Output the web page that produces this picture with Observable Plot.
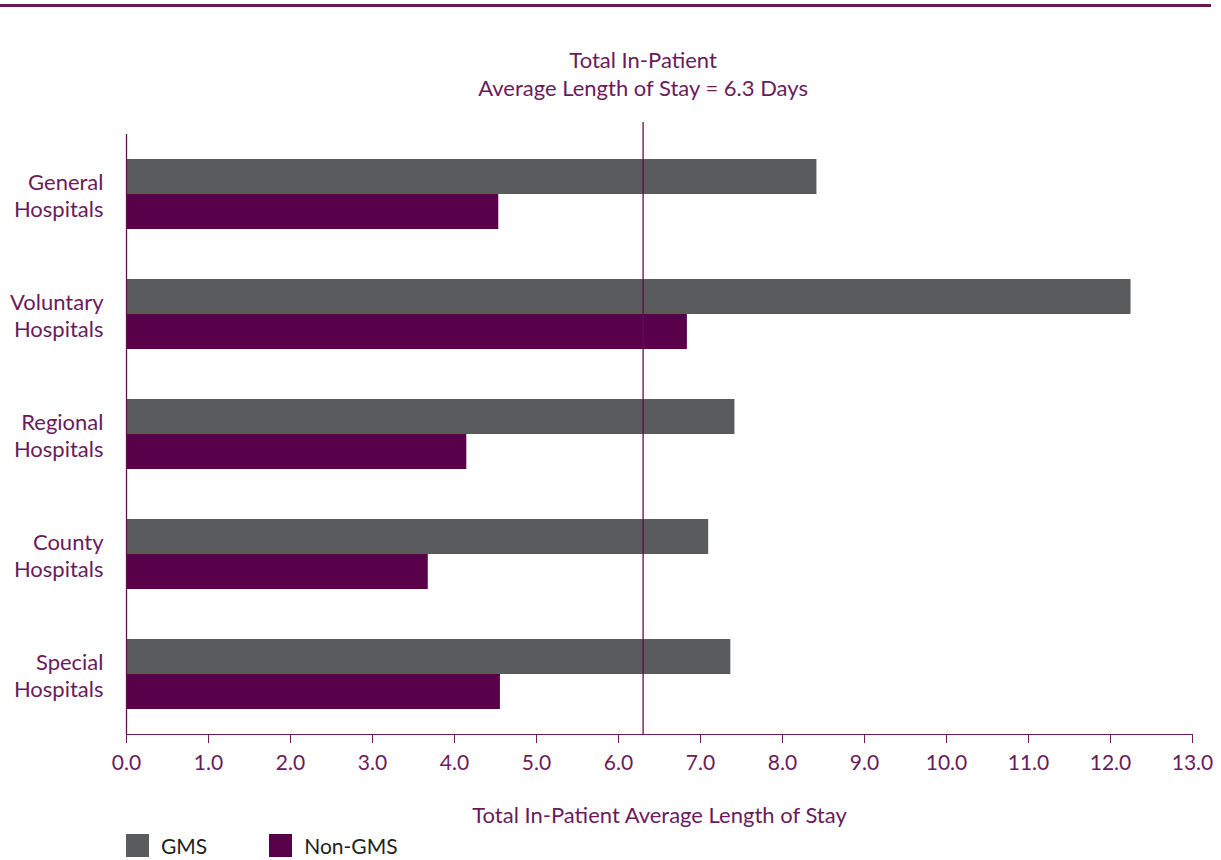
<!DOCTYPE html>
<html>
<head>
<meta charset="utf-8">
<script src="https://cdn.jsdelivr.net/npm/d3@7"></script>
<script src="https://cdn.jsdelivr.net/npm/@observablehq/plot@0.6"></script>
<style>
  html, body { margin: 0; padding: 0; background: #fff; }
  body { position: relative; width: 1221px; height: 860px; overflow: hidden; font-family: Lato, "Noto Sans", sans-serif; }
  #topline { position: absolute; left: 0; top: 4px; width: 1211px; height: 3px; background: #661858; }
  #chart svg { display: block; }
  #legend { display: flex; align-items: center; margin-left: 126px; margin-top: 3px; font-size: 21px; color: #231f20; }
  #legend .item { display: flex; align-items: center; }
  #legend .sw { width: 23px; height: 23px; margin-right: 12px; }
</style>
</head>
<body>
<div id="topline"></div>
<div id="chart"></div>
<div id="legend"></div>
<script>
const categories = ["General Hospitals", "Voluntary Hospitals", "Regional Hospitals", "County Hospitals", "Special Hospitals"];
const series = ["GMS", "Non-GMS"];
const gmsValues = [8.42, 12.25, 7.42, 7.10, 7.37];
const nonGmsValues = [4.54, 6.84, 4.15, 3.68, 4.56];
const averageStay = 6.3;
const xTicks = [0, 1, 2, 3, 4, 5, 6, 7, 8, 9, 10, 11, 12, 13];
const annotationLines = ["Total In-Patient", "Average Length of Stay = 6.3 Days"];
const xLabel = "Total In-Patient Average Length of Stay";
const seriesColors = ["#5a5b5d", "#58004a"];

const textColor = "#6a1b5c";
const lineColor = "#5e0f52";

const rows = categories.flatMap((c, i) => [
  {category: c, series: series[0], value: gmsValues[i]},
  {category: c, series: series[1], value: nonGmsValues[i]}
]);

const chart = Plot.plot({
  width: 1221,
  height: 830,
  marginLeft: 126,
  marginRight: 29,
  marginTop: 134,
  marginBottom: 96,
  style: {fontFamily: "Lato, 'Noto Sans', sans-serif", fontSize: "21px", color: textColor, background: "transparent"},
  x: {domain: [0, 13], ticks: xTicks, tickFormat: d => d.toFixed(1), tickSize: 9, tickPadding: 12, line: true, label: null},
  y: {domain: series, axis: null, paddingInner: 0, paddingOuter: 0.714},
  fy: {domain: categories, axis: null, padding: 0},
  color: {domain: series, range: seriesColors},
  marks: [
    Plot.barX(rows, {x: "value", y: "series", fy: "category", fill: "series"}),
    Plot.ruleX(categories, {x: 0, fy: d => d, stroke: lineColor, strokeWidth: 1.3}),
    Plot.ruleX(categories.slice(0, 1), {x: averageStay, fy: d => d, stroke: lineColor, strokeWidth: 1.3, insetTop: -12}),
    Plot.ruleX(categories.slice(1), {x: averageStay, fy: d => d, stroke: lineColor, strokeWidth: 1.3}),
    Plot.text(categories, {
      fy: d => d, frameAnchor: "left", dx: -23, textAnchor: "end",
      text: d => d.replace(" ", "\n"), lineHeight: 1.23, fontSize: 22, fill: textColor
    }),
    Plot.text([annotationLines.join("\n")], {
      fy: [categories[0]], x: averageStay, frameAnchor: "top", lineAnchor: "bottom",
      dy: -39, lineHeight: 1.26, fontSize: 22, fill: textColor, text: d => d
    }),
    Plot.text([xLabel], {
      fy: [categories[categories.length - 1]], frameAnchor: "bottom", lineAnchor: "top",
      dy: 73, fontSize: 22, fill: textColor, text: d => d
    })
  ]
});
document.getElementById("chart").appendChild(chart);

const legend = document.getElementById("legend");
series.forEach((s, i) => {
  const item = document.createElement("div");
  item.className = "item";
  item.style.marginRight = i === 0 ? "62px" : "0";
  const sw = document.createElement("span");
  sw.className = "sw";
  sw.style.background = seriesColors[i];
  const label = document.createElement("span");
  label.textContent = s;
  item.appendChild(sw);
  item.appendChild(label);
  legend.appendChild(item);
});
</script>
</body>
</html>
